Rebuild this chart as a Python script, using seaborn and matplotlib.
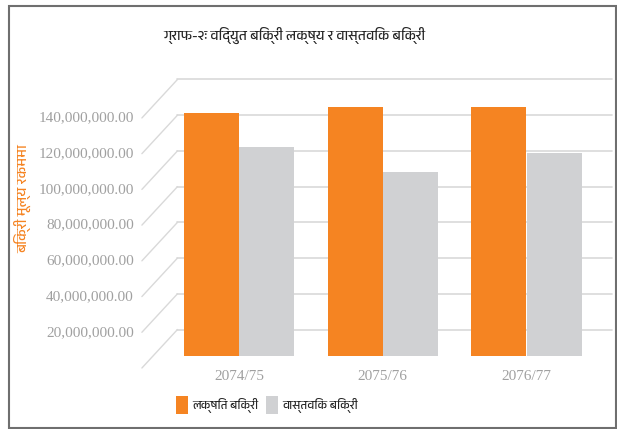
import numpy as np
import pandas as pd
import matplotlib
matplotlib.use("Agg")
import matplotlib.pyplot as plt
import seaborn as sns
from matplotlib import font_manager
from matplotlib.ft2font import FT2Font
from matplotlib.lines import Line2D
from matplotlib.patches import Patch, Rectangle
from matplotlib.transforms import IdentityTransform

# ---------------- data ----------------
years = ["2074/75", "2075/76", "2076/77"]
series_names = ["लक्षित बिक्री", "वास्तविक बिक्री"]
target_sales = [136_000_000, 139_500_000, 139_500_000]
actual_sales = [117_000_000, 103_200_000, 113_700_000]
ytick_values = [0, 20_000_000, 40_000_000, 60_000_000, 80_000_000,
                100_000_000, 120_000_000, 140_000_000]
ytick_labels = ["", "20,000,000.00", "40,000,000.00", "60,000,000.00",
                "80,000,000.00", "100,000,000.00", "120,000,000.00",
                "140,000,000.00"]
title_text = "ग्राफ-२ः विद्युत बिक्री लक्ष्य र वास्तविक बिक्री"
ylabel_text = "बिक्री मूल्य रकममा"

ORANGE = "#F58422"
GRAY = "#D0D1D3"
GRID = "#D9D9D9"
TICK = "#A0A0A0"

# ---------------- fonts ----------------
def find_devanagari_font():
    best = None
    for f in font_manager.fontManager.ttflist:
        try:
            cm = FT2Font(f.fname).get_charmap()
        except Exception:
            continue
        if 0x0915 in cm and 0x093F in cm:
            if "Devanagari" in f.name:
                return f.name
            if best is None:
                best = f.name
    return best

sns.set_theme(style="white")
dev = find_devanagari_font()
dev_family = [dev, "DejaVu Sans"] if dev else ["DejaVu Sans"]
plt.rcParams["font.family"] = dev_family

# ---------------- figure ----------------
W, H = 617, 429
fig = plt.figure(figsize=(W / 100, H / 100), dpi=100)
fig.patch.set_facecolor("white")

# bar plane geometry (pixels)
base_px = 356.0
px_per_M = 1.786
ymax = 155_000_000
left_px, right_px = 167.0, 598.4
top_px = base_px - ymax / 1e6 * px_per_M
ax = fig.add_axes([left_px / W, 1 - base_px / H,
                   (right_px - left_px) / W, (base_px - top_px) / H])
ax.set_facecolor("none")

df = pd.DataFrame({
    "year": years * 2,
    "value": target_sales + actual_sales,
    "series": [series_names[0]] * 3 + [series_names[1]] * 3,
})
sns.barplot(data=df, x="year", y="value", hue="series",
            palette=[ORANGE, GRAY], saturation=1, width=0.765, gap=0,
            linewidth=0, legend=False, ax=ax, zorder=2)
ax.set_xlim(-0.5, 2.5)
ax.set_ylim(0, ymax)
for s in ax.spines.values():
    s.set_visible(False)
ax.set_yticks([])
ax.set_xlabel("")
ax.set_ylabel("")
ax.tick_params(axis="x", length=0, pad=10, labelcolor=TICK, labelsize=11)
for lbl in ax.get_xticklabels():
    lbl.set_fontfamily(["Liberation Serif", "DejaVu Serif"])

# 3D-looking walls: front offset and back offset (pixels)
front_dx, front_dy = -11.1, -12.0
back_dx, back_dy = 24.5, 26.5
x_left = -0.5 + (153.0 - left_px) / 143.75
x_right = -0.5 + (587.5 - left_px) / 143.75
for v, lab in zip(ytick_values, ytick_labels):
    (xl, yv) = ax.transData.transform((x_left, v))
    (xr, _) = ax.transData.transform((x_right, v))
    ax.add_line(Line2D([xl + front_dx, xl + back_dx], [yv + front_dy, yv + back_dy],
                       transform=IdentityTransform(), color=GRID, lw=1.0,
                       clip_on=False, zorder=0.5))
    ax.add_line(Line2D([xl + back_dx, xr + back_dx], [yv + back_dy, yv + back_dy],
                       transform=IdentityTransform(), color=GRID, lw=1.2,
                       clip_on=False, zorder=0.5))
    if lab:
        fig.text((xl + front_dx - 8) / W, (yv + front_dy) / H, lab,
                 ha="right", va="center", color=TICK, fontsize=11,
                 family=["Liberation Serif", "DejaVu Serif"])

# title and axis label
fig.text(294 / W, 1 - 35 / H, title_text, ha="center", va="center",
         fontsize=10, color="#262626", family=dev_family)
fig.text(23 / W, 1 - 199 / H, ylabel_text, ha="center", va="center",
         rotation=90, fontsize=10.5, color=ORANGE, family=dev_family)

# legend (one entry per legend so each sits where it is in the reference)
leg_kw = dict(loc="center left", frameon=False, handlelength=1.0,
              handleheight=2.0, handletextpad=0.4, borderpad=0,
              borderaxespad=0, prop={"family": dev_family, "size": 8.5})
fig.legend([Patch(facecolor=ORANGE, edgecolor="none")], [series_names[0]],
           bbox_to_anchor=(176 / W, 1 - 405 / H), **leg_kw)
fig.legend([Patch(facecolor=GRAY, edgecolor="none")], [series_names[1]],
           bbox_to_anchor=(266 / W, 1 - 405 / H), **leg_kw)

# outer border
fig.add_artist(Rectangle((9 / W, 1 / H), 607 / W, 422 / H,
                         transform=fig.transFigure, fill=False,
                         edgecolor="#6F6F6F", lw=1.5))

fig.savefig("out.png", dpi=100)
